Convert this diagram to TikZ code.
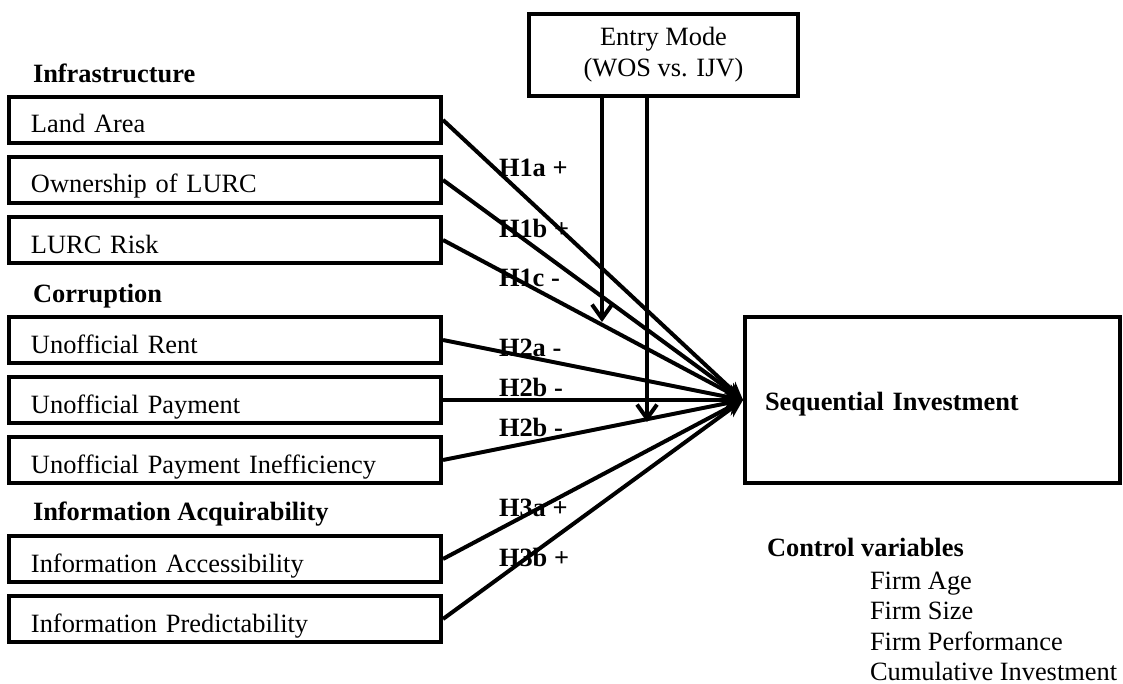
\documentclass[tikz,border=0pt]{standalone}
\usepackage{fontspec}
\setmainfont{Liberation Serif}
\usepackage{tikz}
\usetikzlibrary{positioning,arrows.meta}

\newcommand{\diagsize}{\fontsize{13.2pt}{15.5pt}\selectfont}

\begin{document}
\begin{tikzpicture}[
    x=0.5pt, y=-0.5pt, line width=2pt,
    factor/.style={draw, rectangle, minimum width=216pt, minimum height=23pt, text width=194pt, inner xsep=11pt, inner ysep=0pt, align=left, text height=15pt, text depth=2pt, font=\diagsize},
    outcome/.style={draw, rectangle, minimum width=187.5pt, minimum height=83pt, text width=167.5pt, inner xsep=10pt, inner ysep=0pt, align=left, text height=12pt, text depth=2pt, font=\diagsize\bfseries},
    moder/.style={draw, rectangle, minimum width=134.5pt, minimum height=41pt, align=center, font=\diagsize},
    group/.style={anchor=base west, inner sep=0pt, font=\diagsize\bfseries},
    item/.style={anchor=base west, inner sep=0pt, font=\diagsize},
    hyp/.style={anchor=west, inner sep=0pt, font=\diagsize\bfseries},
    effect/.style={-{Stealth[length=9pt, width=8pt]}},
    moderate/.style={-{Straight Barb[length=7pt, width=10pt]}}
]
    \useasboundingbox (0,0) rectangle (1123,684);

    % Group headings
    \node [group] (infra) at (31,83) {Infrastructure};
    \node [group] (corr) at (31,302) {Corruption};
    \node [group] (infoacq) at (31,520) {Information Acquirability};

    % Independent variables
    \foreach \name/\y/\label in {land/120/Land Area, own/180/Ownership of LURC, risk/240/LURC Risk, rent/340/Unofficial Rent, pay/400/Unofficial Payment, ineff/460/Unofficial Payment Inefficiency, access/559/Information Accessibility, predict/619/Information Predictability} {
        \node [factor] (\name) at (225,\y) {\label};
    }

    % Dependent variable and moderator
    \node [outcome] (seq) at (932.5,400) {Sequential Investment};
    \node [moder] (entry) at (663.5,55) {Entry Mode\\(WOS vs. IJV)};

    % Hypotheses
    \foreach \y/\txt [count=\k] in {168/H1a +, 228/H1b +, 278/H1c -, 348/H2a -, 387/H2b -, 427/H2b -, 508/H3a +, 557/H3b +} {
        \node [hyp] (h\k) at (497,\y) {\txt};
    }

    % Main effects
    \foreach \name in {land, own, risk, rent, pay, ineff, access, predict} {
        \draw [effect] (\name.east) -- (seq.west);
    }

    % Moderation
    \coordinate (m1) at (602,322);
    \coordinate (m2) at (647,422);
    \draw [moderate] (entry.south -| m1) -- (m1);
    \draw [moderate] (entry.south -| m2) -- (m2);

    % Controls
    \node [group] (ctrl) at (765,556) {Control variables};
    \foreach \y/\txt [count=\k] in {589/Firm Age, 619/Firm Size, 650/Firm Performance, 680/Cumulative Investment} {
        \node [item] (c\k) at (868,\y) {\txt};
    }
\end{tikzpicture}
\end{document}
